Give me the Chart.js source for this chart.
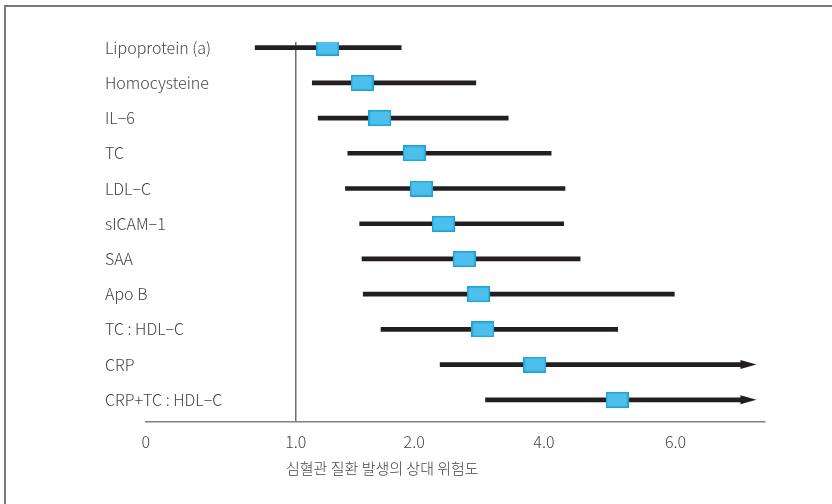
<!DOCTYPE html>
<html>
<head>
<meta charset="utf-8">
<script src="https://cdn.jsdelivr.net/npm/chart.js@4/dist/chart.umd.min.js"></script>
<style>
  html, body { margin: 0; padding: 0; background: #fff; overflow: hidden; }
  .frame { position: absolute; left: 4px; top: 5px; width: 900px; height: 600px; border-left: 2px solid #7a7a7a; border-top: 2px solid #7a7a7a; }
  .wrap { position: absolute; left: 0; top: 0; width: 832px; height: 504px; }
  .xtitle { position: absolute; left: 286px; top: 457px; font: 300 15px "Noto Sans CJK KR"; color: #444; white-space: nowrap; }
</style>
</head>
<body>
<div class="frame"></div>
<div class="wrap"><canvas id="myChart" width="832" height="504"></canvas></div>
<div class="xtitle">심혈관 질환 발생의 상대 위험도</div>
<script>
const factors = ['Lipoprotein (a)', 'Homocysteine', 'IL−6', 'TC', 'LDL−C', 'sICAM−1', 'SAA', 'Apo B', 'TC : HDL−C', 'CRP', 'CRP+TC : HDL−C'];
const riskEstimate = [1.27, 1.56, 1.71, 2.00, 2.11, 2.45, 2.77, 2.99, 3.06, 3.86, 5.11];
const ciLow = [0.73, 1.14, 1.19, 1.44, 1.42, 1.54, 1.56, 1.57, 1.72, 2.40, 3.10];
const ciHigh = [1.89, 2.95, 3.45, 4.11, 4.32, 4.30, 4.55, 5.98, 5.12, 7.0, 7.0];
const openEnded = [false, false, false, false, false, false, false, false, false, true, true];
const tickValues = [0, 1, 2, 4, 6];
const tickLabels = ['0', '1.0', '2.0', '4.0', '6.0'];

// the printed axis is not evenly spaced, so each tick gets its own spot on the scale
const tickSpots = [0, 1, 1.79, 2.655, 3.533];

const toSpot = v => {
    let i = 1;
    while (i < tickValues.length - 1 && v > tickValues[i]) i++;
    const v0 = tickValues[i - 1], v1 = tickValues[i];
    const s0 = tickSpots[i - 1], s1 = tickSpots[i];
    return s0 + (v - v0) * (s1 - s0) / (v1 - v0);
};

const textColor = '#444';
const labelFont = { family: '"Noto Sans CJK KR"', size: 16, weight: 300 };

// blue square marker for the point estimate
const boxImg = document.createElement('canvas');
boxImg.width = 23;
boxImg.height = 16;
const bctx = boxImg.getContext('2d');
bctx.fillStyle = '#4dbfec';
bctx.fillRect(0, 0, 23, 16);
bctx.strokeStyle = '#1ea1db';
bctx.lineWidth = 1.5;
bctx.strokeRect(0.75, 0.75, 21.5, 14.5);

const arrowHeads = {
    id: 'arrowHeads',
    afterDatasetsDraw(chart) {
        const { ctx, scales: { x, y } } = chart;
        ctx.save();
        ctx.fillStyle = '#231f20';
        openEnded.forEach((open, i) => {
            if (!open) return;
            const px = x.getPixelForValue(toSpot(ciHigh[i]));
            const py = y.getPixelForValue(i);
            ctx.beginPath();
            ctx.moveTo(px - 1, py - 4.5);
            ctx.lineTo(px + 15, py);
            ctx.lineTo(px - 1, py + 4.5);
            ctx.closePath();
            ctx.fill();
        });
        ctx.restore();
    }
};

const ctx = document.querySelector('#myChart');

myChart = new Chart(ctx, {
    type: 'bar',
    data: {
        datasets: [{
            type: 'bar',
            data: factors.map((f, i) => ({ y: i, x: [toSpot(ciLow[i]), toSpot(ciHigh[i])] })),
            backgroundColor: '#231f20',
            borderWidth: 0,
            barThickness: 4,
            order: 2
        },
        {
            type: 'scatter',
            data: factors.map((f, i) => ({ y: i, x: toSpot(riskEstimate[i]) })),
            pointStyle: boxImg,
            pointRadius: 11,
            order: 1
        }]
    },
    options: {
        indexAxis: 'y',
        responsive: false,
        animation: false,
        layout: { padding: { left: 145.7, top: 42, right: 67, bottom: 0 } },
        plugins: {
            legend: { display: false },
            tooltip: { enabled: false }
        },
        scales: {
            x: {
                type: 'linear',
                min: 0,
                max: 4.129,
                afterBuildTicks: s => { s.ticks = tickSpots.map(v => ({ value: v })) },
                afterFit: s => { s.height = 82 },
                ticks: {
                    callback: (v, i) => tickLabels[i],
                    font: { family: '"Noto Sans CJK KR"', size: 16, weight: 300 },
                    color: textColor,
                    padding: 10,
                    maxRotation: 0,
                    autoSkip: false
                },
                grid: {
                    color: c => (c.tick && c.tick.value === 1) ? '#6e6e6e' : 'transparent',
                    lineWidth: 1.5,
                    drawTicks: false
                },
                border: { color: '#808080', width: 1.5 }
            },
            y: {
                type: 'linear',
                reverse: true,
                offset: false,
                min: -0.16,
                max: 10.63,
                afterBuildTicks: s => { s.ticks = factors.map((f, i) => ({ value: i })) },
                afterFit: s => { s.width = 0 },
                ticks: {
                    mirror: true,
                    crossAlign: 'near',
                    padding: -40.7,
                    callback: v => factors[v],
                    font: labelFont,
                    color: textColor,
                    autoSkip: false
                },
                grid: { display: false },
                border: { display: false }
            }
        }
    },
    plugins: [arrowHeads]
});
</script>
</body>
</html>
